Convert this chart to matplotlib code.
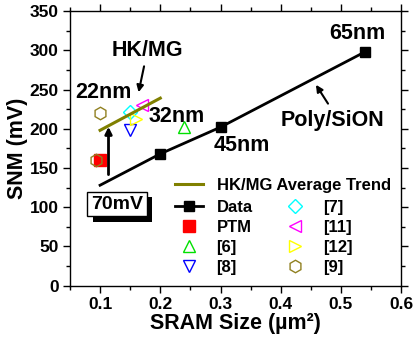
#!/usr/bin/env python3
"""SNM vs SRAM cell size: Poly/SiON data and HK/MG references."""
import matplotlib
matplotlib.use('Agg')
import matplotlib.pyplot as plt
import matplotlib.patheffects as pe
from matplotlib.lines import Line2D

plt.rcParams['font.family'] = ['Liberation Sans', 'DejaVu Sans']
plt.rcParams['font.weight'] = 'bold'

# Poly/SiON measured data (first point is the line start, no marker)
data_x = [0.1, 0.2, 0.3, 0.54]
data_y = [128, 168, 202, 298]

# HK/MG average trend
trend_x = [0.1, 0.2]
trend_y = [198, 239]

# literature / model points
ptm = ([0.1], [160])
ref6 = ([0.24], [202])
ref8 = ([0.15], [198])
ref7 = ([0.15], [221])
ref11 = ([0.17], [230])
ref12 = ([0.16], [213])
ref9 = ([0.1, 0.093], [220, 160])

fig = plt.figure(figsize=(4.14, 3.45), dpi=100)
ax = fig.add_axes([0.169, 0.172, 0.8, 0.796])

ax.plot(data_x, data_y, 'k-', lw=2, zorder=3)
ax.plot(data_x[1:], data_y[1:], 'ks', ms=6.5, zorder=4)
ax.plot(trend_x, trend_y, '-', color='#808000', lw=2.2, zorder=3)

ax.plot(*ptm, 's', color='red', ms=9, zorder=2)
ax.plot(*ref6, '^', mfc='none', mec='#00e000', ms=9, mew=1)
ax.plot(*ref8, 'v', mfc='none', mec='blue', ms=9, mew=1)
ax.plot(*ref7, 'D', mfc='none', mec='cyan', ms=7.5, mew=1)
ax.plot(*ref11, '<', mfc='none', mec='magenta', ms=9, mew=1)
ax.plot(*ref12, '>', mfc='none', mec='yellow', ms=9, mew=1)
ax.plot(*ref9, 'h', mfc='none', mec='#908020', ms=9, mew=1)

# annotations
fs = 15.5
ax.text(0.178, 300, 'HK/MG', fontsize=fs, ha='center', va='center')
ax.annotate('', xy=(0.163, 243), xytext=(0.174, 283),
            arrowprops=dict(arrowstyle='-|>', color='k', lw=1.5, mutation_scale=10))
ax.text(0.105, 246, '22nm', fontsize=fs, ha='center', va='center')
ax.text(0.227, 215, '32nm', fontsize=fs, ha='center', va='center')
ax.text(0.335, 178, '45nm', fontsize=fs, ha='center', va='center')
ax.text(0.528, 322, '65nm', fontsize=fs, ha='center', va='center')
ax.text(0.486, 211, 'Poly/SiON', fontsize=fs, ha='center', va='center')
ax.annotate('', xy=(0.456, 259), xytext=(0.481, 229),
            arrowprops=dict(arrowstyle='-|>', color='k', lw=1.5, mutation_scale=10))
ax.annotate('', xy=(0.114, 206), xytext=(0.114, 138),
            arrowprops=dict(arrowstyle='-|>', color='k', lw=2, mutation_scale=10))
box = ax.text(0.128, 104, '70mV', fontsize=14, ha='center', va='center',
              bbox=dict(boxstyle='square,pad=0.2', fc='white', ec='k', lw=1))
box.get_bbox_patch().set_path_effects([
    pe.SimplePatchShadow(offset=(4, -4), shadow_rgbFace='k', alpha=1),
    pe.Normal()])

ax.set_xlim(0.05, 0.6)
ax.set_ylim(0, 350)
ax.set_xticks([0.1, 0.2, 0.3, 0.4, 0.5, 0.6])
ax.set_xticks([0.05, 0.15, 0.25, 0.35, 0.45, 0.55], minor=True)
ax.set_yticks(range(0, 351, 50))
ax.set_yticks(range(25, 350, 50), minor=True)
ax.tick_params(which='both', direction='out', top=True, right=True,
               labelsize=12.5, width=1, pad=3)
ax.tick_params(which='major', length=5)
ax.tick_params(which='minor', length=3)
for lbl in ax.get_xticklabels() + ax.get_yticklabels():
    lbl.set_fontweight('bold')
for sp in ax.spines.values():
    sp.set_linewidth(1)

ax.set_xlabel('SRAM Size (\u00b5m\u00b2)', fontsize=15.5, fontweight='bold', labelpad=1)
ax.set_ylabel('SNM (mV)', fontsize=15.5, fontweight='bold', labelpad=1)

# legends
h_trend = Line2D([], [], color='#808000', lw=2.2)
leg1 = ax.legend([h_trend], ['HK/MG Average Trend'], loc='upper left',
                 bbox_to_anchor=(0.317, 0.392), frameon=False, fontsize=12,
                 handlelength=1.7, borderpad=0, borderaxespad=0,
                 handletextpad=0.8)
ax.add_artist(leg1)

handles = [
    Line2D([], [], color='k', lw=2, marker='s', ms=6.5),
    Line2D([], [], ls='none', marker='s', color='red', ms=9),
    Line2D([], [], ls='none', marker='^', mfc='none', mec='#00e000', ms=9),
    Line2D([], [], ls='none', marker='v', mfc='none', mec='blue', ms=9),
    Line2D([], [], ls='none', marker='D', mfc='none', mec='cyan', ms=7.5),
    Line2D([], [], ls='none', marker='<', mfc='none', mec='magenta', ms=9),
    Line2D([], [], ls='none', marker='>', mfc='none', mec='yellow', ms=9),
    Line2D([], [], ls='none', marker='h', mfc='none', mec='#908020', ms=9),
]
labels = ['Data', 'PTM', '[6]', '[8]', '[7]', '[11]', '[12]', '[9]']
ax.legend(handles, labels, loc='upper left', bbox_to_anchor=(0.317, 0.312),
          ncol=2, frameon=False, fontsize=12, handlelength=1.7,
          borderpad=0, borderaxespad=0, handletextpad=0.8,
          columnspacing=1.7, labelspacing=0.3)

plt.savefig('out.png', dpi=100)
